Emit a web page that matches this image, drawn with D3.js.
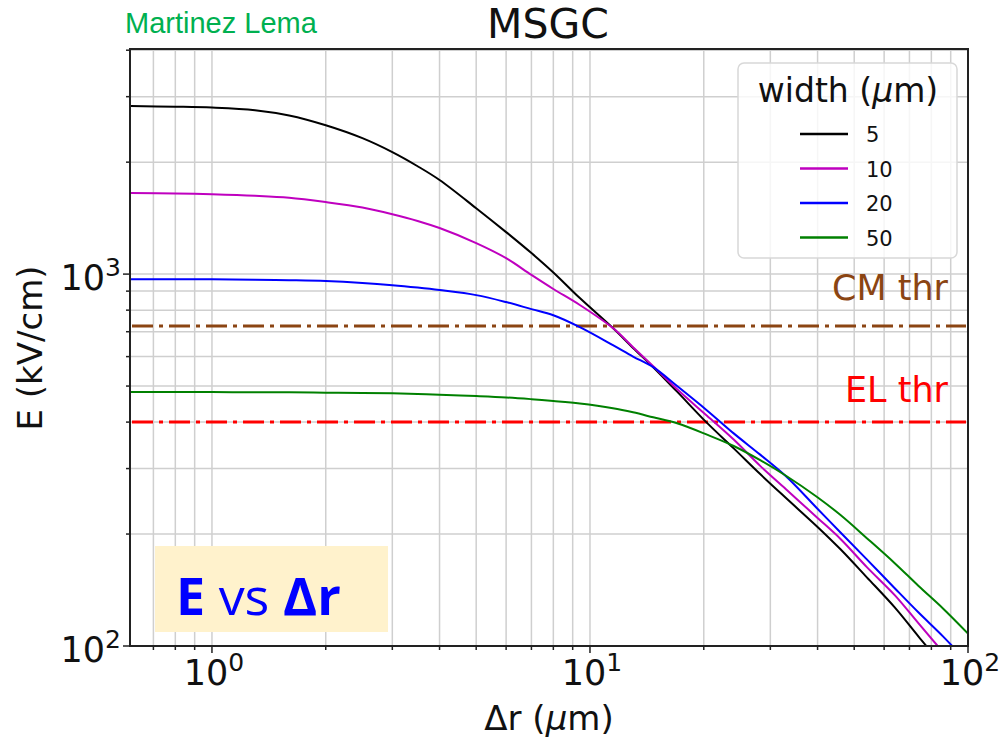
<!DOCTYPE html>
<html>
<head>
<meta charset="utf-8">
<script src="https://cdnjs.cloudflare.com/ajax/libs/d3/7.8.5/d3.min.js"></script>
<style>
  body { margin: 0; background: #fff; }
  text { font-family: "DejaVu Sans", sans-serif; }
</style>
</head>
<body>
<script>
// distance from the strip (um)
var dr = [0.61, 0.8, 1.0, 1.3, 1.6, 2.0, 2.5, 3.0, 3.5, 4.0, 5.0, 6.0, 7.0, 8.0, 9.4,
          11.5, 13, 14.7, 17, 20.4, 24, 28.2, 33, 39.8, 46, 54, 64, 74, 86, 100];

// E field (kV/cm) for each strip width
var E5  = [2830, 2820, 2805, 2760, 2670, 2513, 2320, 2128, 1950, 1791, 1504, 1297, 1139, 1010, 862,
           716, 633, 562, 483, 398, 340, 290, 250, 210, 182, 153, 127, 106, 88, 72];
var E10 = [1652, 1648, 1640, 1625, 1605, 1562, 1510, 1449, 1390, 1330, 1212, 1104, 995, 912, 826,
           716, 636, 565, 490, 416, 359, 305, 264, 222, 194, 163, 137, 115, 96, 80];
var E20 = [969, 969, 968, 966, 963, 958, 947, 934, 920, 906, 878, 841, 805, 775, 720,
           644, 600, 562, 500, 430, 373, 327, 286, 235, 202, 171, 143, 123, 106, 90];
var E50 = [482, 482, 482, 481, 481, 480, 479, 478, 476, 474, 470, 466, 461, 456, 449,
           436, 425, 412, 397, 370, 345, 316, 287, 252, 225, 195, 167, 145, 126, 108];

var widths = ["5", "10", "20", "50"];
var colors = ["#000000", "#bf00bf", "#0000ff", "#008000"];

// thresholds
var thrNames = ["CM thr", "EL thr"];
var thrValues = [725, 400];
var thrColors = ["#8b4513", "#ff0000"];

var xTicks = [1, 10, 100];
var yTicks = [100, 1000];

var W = 1003, H = 738;
// plot box (note: "top" is taken by window.top, so use pTop)
var pLeft = 130, pRight = 968, pTop = 49, pBottom = 646;

var svg = d3.select("body").append("svg").attr("width", W).attr("height", H);

var x = d3.scaleLog().domain([0.607, 100]).range([pLeft, pRight]);
var y = d3.scaleLog().domain([100, 4030]).range([pBottom, pTop]);

// minor + major grid
var xGrid = [];
[0.1, 1, 10].forEach(function(dec) {
  for (var i = 1; i < 10; i++) {
    var v = dec * i;
    if (v >= 0.607 && v <= 100) xGrid.push(v);
  }
});
xGrid.push(100);
var yGrid = [];
[100, 1000].forEach(function(dec) {
  for (var i = 1; i < 10; i++) {
    var v = dec * i;
    if (v >= 100 && v <= 4030) yGrid.push(v);
  }
});

var grid = svg.append("g").attr("stroke", "#cfcfcf").attr("stroke-width", 1.5);
grid.selectAll(".gx").data(xGrid).enter().append("line")
  .attr("x1", d => x(d)).attr("x2", d => x(d))
  .attr("y1", pTop).attr("y2", pBottom);
grid.selectAll(".gy").data(yGrid).enter().append("line")
  .attr("x1", pLeft).attr("x2", pRight)
  .attr("y1", d => y(d)).attr("y2", d => y(d));

// clip for the curves
svg.append("clipPath").attr("id", "clip").append("rect")
  .attr("x", pLeft).attr("y", pTop).attr("width", pRight - pLeft).attr("height", pBottom - pTop);

// threshold lines
svg.append("g").selectAll("line").data(thrValues).enter().append("line")
  .attr("x1", pLeft + 2).attr("x2", pRight - 2)
  .attr("y1", d => y(d)).attr("y2", d => y(d))
  .attr("stroke", (d, i) => thrColors[i])
  .attr("stroke-width", 3)
  .attr("stroke-dasharray", "21,6,4,6");

var series = [E5, E10, E20, E50];
var line = d3.line()
  .x((d, i) => x(dr[i]))
  .y(d => y(d))
  .curve(d3.curveCatmullRom.alpha(0.5));

svg.append("g").attr("clip-path", "url(#clip)")
  .selectAll("path").data(series).enter().append("path")
  .attr("d", d => line(d))
  .attr("fill", "none")
  .attr("stroke", (d, i) => colors[i])
  .attr("stroke-width", 2);

// threshold labels
var thrY = [300, 402];
svg.append("g").selectAll("text").data(thrNames).enter().append("text")
  .attr("x", 948).attr("y", (d, i) => thrY[i])
  .attr("text-anchor", "end")
  .attr("font-size", 35)
  .attr("fill", (d, i) => thrColors[i])
  .text(d => d);

// axes frame
svg.append("rect")
  .attr("x", pLeft).attr("y", pTop).attr("width", pRight - pLeft).attr("height", pBottom - pTop)
  .attr("fill", "none").attr("stroke", "#222").attr("stroke-width", 2);

// tick marks
var tk = svg.append("g").attr("stroke", "#222").attr("stroke-width", 1.5);
tk.selectAll(".tx").data(xGrid).enter().append("line")
  .attr("x1", d => x(d)).attr("x2", d => x(d))
  .attr("y1", pBottom).attr("y2", d => pBottom + (xTicks.indexOf(d) >= 0 ? 7 : 4));
tk.selectAll(".ty").data(yGrid).enter().append("line")
  .attr("y1", d => y(d)).attr("y2", d => y(d))
  .attr("x1", pLeft).attr("x2", d => pLeft - (yTicks.indexOf(d) >= 0 ? 7 : 4));

// tick labels, 10^n style
function powLabel(sel, d) {
  var e = Math.round(Math.log10(d));
  sel.append("tspan").text("10");
  sel.append("tspan").attr("dy", -14).attr("font-size", 25).text(e);
}
svg.append("g").selectAll("text").data(xTicks).enter().append("text")
  .attr("x", d => x(d) + 2).attr("y", 685)
  .attr("text-anchor", "middle")
  .attr("font-size", 35)
  .attr("fill", "#111")
  .each(function(d) { powLabel(d3.select(this), d); });
svg.append("g").selectAll("text").data(yTicks).enter().append("text")
  .attr("x", 121).attr("y", d => y(d) + 16)
  .attr("text-anchor", "end")
  .attr("font-size", 35)
  .attr("fill", "#111")
  .each(function(d) { powLabel(d3.select(this), d); });

// axis titles
svg.append("text")
  .attr("x", 549).attr("y", 730)
  .attr("text-anchor", "middle")
  .attr("font-size", 34)
  .attr("fill", "#111")
  .html("Δr (<tspan font-style='italic'>μ</tspan>m)");
svg.append("text")
  .attr("transform", "translate(42,348) rotate(-90)")
  .attr("text-anchor", "middle")
  .attr("font-size", 34)
  .attr("fill", "#111")
  .text("E (kV/cm)");

// title + author
svg.append("text")
  .attr("x", 548).attr("y", 38)
  .attr("text-anchor", "middle")
  .attr("font-size", 41)
  .attr("fill", "#111")
  .text("MSGC");
svg.append("text")
  .attr("x", 125).attr("y", 33)
  .style("font-family", "'Liberation Sans', Arial, sans-serif")
  .attr("font-size", 29)
  .attr("fill", "#00b050")
  .text("Martinez Lema");

// legend
var lg = svg.append("g");
lg.append("rect")
  .attr("x", 738).attr("y", 63).attr("width", 219).attr("height", 195)
  .attr("rx", 6)
  .attr("fill", "#fff").attr("fill-opacity", 0.8)
  .attr("stroke", "#d8d8d8").attr("stroke-width", 1.5);
lg.append("text")
  .attr("x", 848).attr("y", 102)
  .attr("text-anchor", "middle")
  .attr("font-size", 33)
  .attr("fill", "#111")
  .html("width (<tspan font-style='italic'>μ</tspan>m)");
var item = lg.selectAll(".item").data(widths).enter().append("g")
  .attr("transform", (d, i) => "translate(0," + (134 + i * 34.5) + ")");
item.append("line")
  .attr("x1", 800).attr("x2", 848)
  .attr("stroke", (d, i) => colors[i])
  .attr("stroke-width", 2.5);
item.append("text")
  .attr("x", 866).attr("y", 8)
  .attr("font-size", 21)
  .attr("fill", "#111")
  .text(d => d);

// "E vs dr" note box
svg.append("rect")
  .attr("x", 155).attr("y", 546).attr("width", 233).attr("height", 86)
  .attr("fill", "#fff2cc");
svg.append("text")
  .attr("x", 176).attr("y", 615)
  .style("font-family", "'Open Sans', sans-serif")
  .attr("font-size", 52)
  .attr("fill", "#0000ff")
  .html("<tspan font-weight='bold'>E</tspan> vs <tspan font-weight='bold'>Δr</tspan>");
</script>
</body>
</html>
